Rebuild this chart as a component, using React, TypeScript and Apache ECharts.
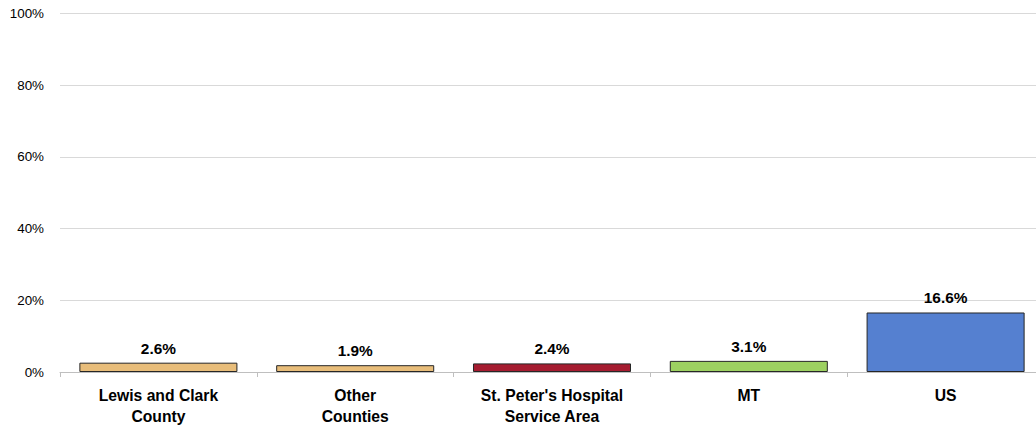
import React, { useEffect, useRef } from "react";
import * as echarts from "echarts";

const categories = ["Lewis and Clark\nCounty", "Other\nCounties", "St. Peter's Hospital\nService Area", "MT", "US"];
const values = [2.6, 1.9, 2.4, 3.1, 16.6];
const barColors = ["#E8BD7A", "#E8BD7A", "#A51C30", "#9DD161", "#5580D0"];
const yTicks = [0, 20, 40, 60, 80, 100];

const FONT = "'Liberation Sans', Arial, sans-serif";

export default function App() {
  const ref = useRef<HTMLDivElement>(null);
  useEffect(() => {
    if (!ref.current) return;
    const chart = echarts.init(ref.current, null, { renderer: "svg" });
    chart.setOption({
      animation: false,
      backgroundColor: "#ffffff",
      grid: { left: 60, right: 0, top: 13.5, bottom: 58, containLabel: false },
      xAxis: {
        type: "category",
        data: categories,
        axisLine: { show: true, lineStyle: { color: "#BFBFBF", width: 1 } },
        axisTick: { show: true, length: 5, alignWithLabel: false, lineStyle: { color: "#BFBFBF" } },
        axisLabel: {
          interval: 0,
          margin: 13,
          fontFamily: FONT,
          fontWeight: "bold",
          fontSize: 15.7,
          lineHeight: 21,
          color: "#000000",
        },
      },
      yAxis: {
        type: "value",
        min: yTicks[0],
        max: yTicks[yTicks.length - 1],
        interval: 20,
        axisLine: { show: false },
        axisTick: { show: false },
        splitLine: { show: true, lineStyle: { color: "#D9D9D9", width: 1 } },
        axisLabel: {
          margin: 16,
          formatter: "{value}%",
          fontFamily: FONT,
          fontSize: 13.4,
          color: "#000000",
        },
      },
      series: [
        {
          type: "bar",
          data: values.map((v, i) => ({
            value: v,
            itemStyle: { color: barColors[i], borderColor: "#262626", borderWidth: 1 },
          })),
          barCategoryGap: "19.7%",
          label: {
            show: true,
            position: "top",
            distance: 7,
            formatter: (p: any) => p.value.toFixed(1) + "%",
            fontFamily: FONT,
            fontWeight: "bold",
            fontSize: 15.4,
            color: "#000000",
          },
        },
      ],
    });
    return () => chart.dispose();
  }, []);
  return (
    <div style={{ position: "fixed", left: 0, top: 0, width: 1036, height: 430, overflow: "hidden", background: "#fff" }}>
      <div ref={ref} style={{ width: 1044, height: 430 }} />
    </div>
  );
}
